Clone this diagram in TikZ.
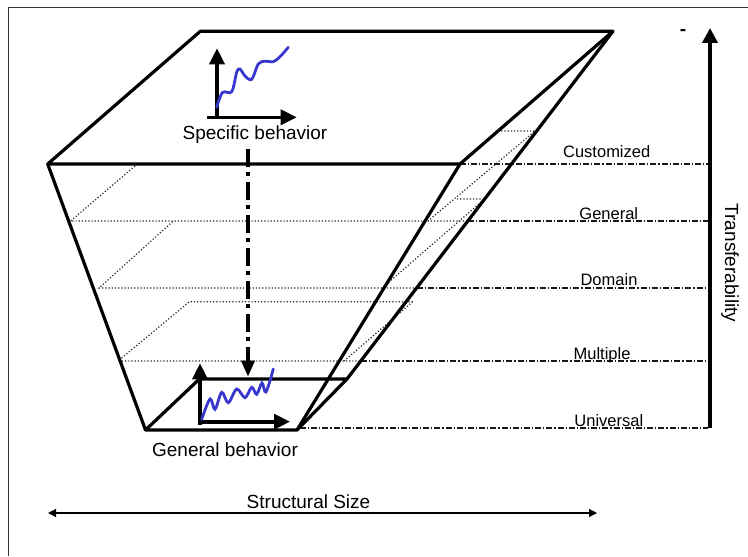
\documentclass[tikz,border=0pt]{standalone}
\usepackage{fontspec}
\setmainfont{Liberation Sans}
\usepackage{xcolor}
\usetikzlibrary{arrows.meta}
\definecolor{wiggle}{RGB}{55,55,205}

\begin{document}
\begin{tikzpicture}[x=0.5pt,y=-0.5pt,>={Triangle[length=8pt,width=7.5pt]},
  face/.style={line width=1.6pt,line join=round},
  axis/.style={line width=1.8pt,->},
  wig/.style={wiggle,line width=1.4pt,line cap=round},
  lvl/.style={line width=0.6pt,black!85,densely dotted},
  lvlout/.style={line width=0.6pt,black!90,dash pattern=on 3pt off 1pt on 0.6pt off 1pt},
  lbl/.style={font=\fontsize{9.5}{11}\selectfont,inner sep=0pt},
  lvllbl/.style={font=\fontsize{8.25}{10}\selectfont,inner sep=0pt}]
  \useasboundingbox (0,0) rectangle (748,556);
  \draw[line width=0.6pt,black!80] (8.6,556) -- (8.6,7.5) -- (748,7.5);
  \coordinate (t1) at (200.4,31.2);
  \coordinate (t2) at (613,31.2);
  \coordinate (t3) at (460,164);
  \coordinate (t4) at (47.7,164);
  \coordinate (b1) at (199.4,379);
  \coordinate (b2) at (347,379);
  \coordinate (b3) at (297,430);
  \coordinate (b4) at (145.5,430);
  \draw[lvlout] (t3) -- (708,164);
  \draw[lvl] (135,166) -- (70.6,221) -- (467.8,221);
  \draw[lvlout] (467.8,221) -- (708,221);
  \draw[lvl] (498,131) -- (535,131) -- (428,221);
  \draw[lvl] (172.7,221.6) -- (99,288) -- (416.6,288);
  \draw[lvlout] (416.6,288) -- (708,288);
  \draw[lvl] (457,199) -- (484.6,199) -- (382,288);
  \draw[lvl] (412.7,301.7) -- (189.4,301.7) -- (118,361) -- (360.8,361);
  \draw[lvlout] (360.8,361) -- (708,361);
  \draw[lvl] (412.7,301.7) -- (344,361);
  \draw[lvlout] (300,428) -- (708,428);
  \draw[face] (t1) -- (t2) -- (t3) -- (t4) -- cycle;
  \draw[face] (b1) -- (b2) -- (b3) -- (b4) -- cycle;
  \draw[face] (t4) -- (b4);
  \draw[face] (t3) -- (b3);
  \draw[face] (t2) -- (b2);
  \coordinate (so) at (217,117);
  \coordinate (sy) at (217,48.3);
  \coordinate (sx0) at (206.7,117.3);
  \coordinate (sx) at (296.7,117.3);
  \draw[axis] (so) -- (sy);
  \draw[axis] (sx0) -- (sx);
  \draw[wig] plot[smooth,tension=0.55] coordinates {(216.7,107.3) (222.5,92.5) (231.7,91.7) (236.7,72.3) (240,69) (245,76) (251.7,79.3) (258.3,64) (265,61.2) (273.3,61.7) (280,56.7) (288.3,47.3)};
  \coordinate (go) at (200,425);
  \coordinate (gy) at (200,363.3);
  \coordinate (gx0) at (198.3,421.7);
  \coordinate (gx) at (290,421.7);
  \draw[axis] (go) -- (gy);
  \draw[axis] (gx0) -- (gx);
  \draw[wig] plot[smooth,tension=0.55] coordinates {(201.7,419.3) (210,399) (215,409.3) (221.7,392.3) (228.3,402.7) (236.7,389) (245,397.7) (251.7,387.3) (256.7,394.3) (262,383) (266,392) (273.3,369)};
  \node[lbl] (spec) at (255,135) {Specific behavior};
  \node[lbl] (gen) at (225,450) {General behavior};
  \node[lbl] (size) at (308.5,502) {Structural Size};
  \node[lvllbl] (cust) at (606.7,151.8) {Customized};
  \node[lvllbl] (genl) at (608.8,213.5) {General};
  \node[lvllbl] (dom) at (609,279.4) {Domain};
  \node[lvllbl] (mult) at (602,355.3) {Multiple};
  \node[lvllbl] (univ) at (608.8,420.2) {Universal};
  \node[lbl,rotate=-90] (trans) at (730,263) {Transferability};
  \node[lbl,font=\fontsize{9.5}{11}\bfseries\selectfont] (minus) at (683,32) {-};
  \coordinate (up) at (248,149);
  \coordinate (down) at (248,376.7);
  \draw[line width=1.8pt,dash pattern=on 9pt off 2.5pt on 2pt off 3pt,-{Triangle[length=8pt,width=6.5pt]}] (up) -- (down);
  \coordinate (ttop) at (710,28);
  \coordinate (tbot) at (710,428);
  \draw[line width=2pt,-{Triangle[length=7.5pt,width=7.5pt]}] (tbot) -- (ttop);
  \coordinate (sl) at (48,513);
  \coordinate (sr) at (597,513);
  \draw[line width=0.6pt,{Triangle[length=4pt,width=4pt]}-{Triangle[length=4pt,width=4pt]}] (sl) -- (sr);
\end{tikzpicture}
\end{document}
